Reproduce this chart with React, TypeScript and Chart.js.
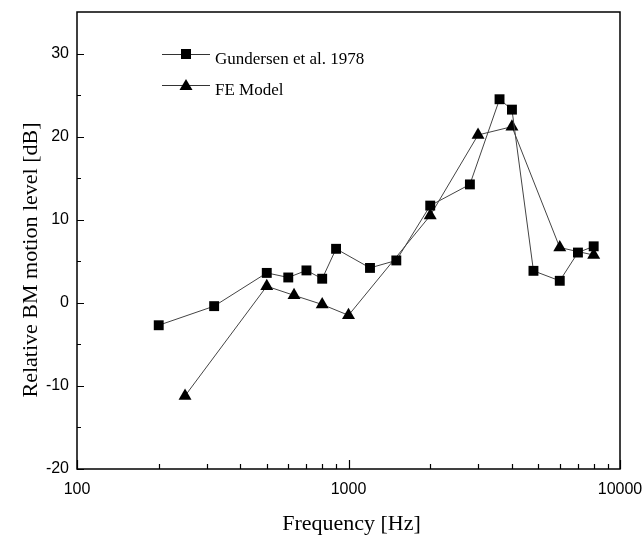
import React, { useEffect, useRef } from "react";
import { Chart, registerables } from "chart.js";

Chart.register(...registerables);

const gundersenFreq = [200, 320, 500, 600, 700, 800, 900, 1200, 1500, 2000, 2800, 3600, 4000, 4800, 6000, 7000, 8000];
const gundersenLevel = [-2.7, -0.4, 3.6, 3.05, 3.9, 2.9, 6.5, 4.2, 5.1, 11.7, 14.25, 24.5, 23.25, 3.85, 2.65, 6.05, 6.8];

const feFreq = [250, 500, 630, 800, 1000, 2000, 3000, 4000, 6000, 8000];
const feLevel = [-11.2, 2.0, 0.9, -0.2, -1.5, 10.5, 20.2, 21.2, 6.65, 5.75];

const xTickValues = [100, 1000, 10000];
const xMinorValues = [200, 300, 400, 500, 600, 700, 800, 900, 2000, 3000, 4000, 5000, 6000, 7000, 8000, 9000];
const yTickValues = [-20, -10, 0, 10, 20, 30];
const yMinorValues = [-15, -5, 5, 15, 25];

const seriesNames = ["Gundersen et al. 1978", "FE Model"];
const xTitle = "Frequency [Hz]";
const yTitle = "Relative BM motion level [dB]";

const SERIF = "'Liberation Serif', 'Times New Roman', serif";
const SANS = "'Liberation Sans', Arial, sans-serif";

const zeroPad = (s: any) => {
  s.paddingTop = 0;
  s.paddingBottom = 0;
  s.paddingLeft = 0;
  s.paddingRight = 0;
};

const decorPlugin = {
  id: "decor",
  afterDraw(chart: any) {
    const ctx = chart.ctx as CanvasRenderingContext2D;
    const { left, right, top, bottom } = chart.chartArea;
    const xs = chart.scales.x;
    const ys = chart.scales.y;
    ctx.save();
    ctx.strokeStyle = "#000";
    ctx.lineWidth = 1.2;
    ctx.beginPath();
    for (const v of xTickValues) {
      const px = Math.round(xs.getPixelForValue(v)) + 0.5;
      ctx.moveTo(px, bottom);
      ctx.lineTo(px, bottom - 9);
    }
    for (const v of xMinorValues) {
      const px = Math.round(xs.getPixelForValue(v)) + 0.5;
      ctx.moveTo(px, bottom);
      ctx.lineTo(px, bottom - 5);
    }
    for (const v of yTickValues) {
      const py = Math.round(ys.getPixelForValue(v)) + 0.5;
      ctx.moveTo(left, py);
      ctx.lineTo(left + 7, py);
    }
    for (const v of yMinorValues) {
      const py = Math.round(ys.getPixelForValue(v)) + 0.5;
      ctx.moveTo(left, py);
      ctx.lineTo(left + 4, py);
    }
    ctx.stroke();
    ctx.lineWidth = 1.5;
    ctx.strokeRect(left, top, right - left, bottom - top);

    ctx.fillStyle = "#000";
    ctx.font = `22px ${SERIF}`;
    ctx.textAlign = "center";
    ctx.textBaseline = "alphabetic";
    ctx.fillText(xTitle, (left + right) / 2 + 3, 530);
    ctx.save();
    ctx.translate(37, 260);
    ctx.rotate(-Math.PI / 2);
    ctx.fillText(yTitle, 0, 0);
    ctx.restore();

    const rows = [
      { y: 54, base: 64, shape: "rect" },
      { y: 85, base: 95, shape: "tri" },
    ];
    ctx.font = `17px ${SERIF}`;
    ctx.textAlign = "left";
    rows.forEach((r, i) => {
      ctx.strokeStyle = "#333";
      ctx.lineWidth = 1;
      ctx.beginPath();
      ctx.moveTo(162, r.y + 0.5);
      ctx.lineTo(210, r.y + 0.5);
      ctx.stroke();
      ctx.fillStyle = "#000";
      const cx = 186;
      if (r.shape === "rect") {
        ctx.fillRect(cx - 5, r.y - 5, 10, 10);
      } else {
        ctx.beginPath();
        ctx.moveTo(cx, r.y - 6);
        ctx.lineTo(cx + 6.5, r.y + 5);
        ctx.lineTo(cx - 6.5, r.y + 5);
        ctx.closePath();
        ctx.fill();
      }
      ctx.fillText(seriesNames[i], 215, r.base);
    });
    ctx.restore();
  },
};

export default function App() {
  const ref = useRef<HTMLCanvasElement | null>(null);
  useEffect(() => {
    if (!ref.current) return;
    const chart = new Chart(ref.current, {
      type: "line",
      data: {
        datasets: [
          {
            label: seriesNames[0],
            data: gundersenFreq.map((f, i) => ({ x: f, y: gundersenLevel[i] })),
            borderColor: "#444",
            borderWidth: 1,
            backgroundColor: "#000",
            pointStyle: "rect",
            pointRadius: 7,
            pointBorderWidth: 0,
            pointBackgroundColor: "#000",
            tension: 0,
          },
          {
            label: seriesNames[1],
            data: feFreq.map((f, i) => ({ x: f, y: feLevel[i] })),
            borderColor: "#444",
            borderWidth: 1,
            backgroundColor: "#000",
            pointStyle: "triangle",
            pointRadius: 7.5,
            pointBorderWidth: 0,
            pointBackgroundColor: "#000",
            tension: 0,
          },
        ],
      },
      options: {
        animation: false,
        responsive: false,
        layout: { padding: { left: 0, top: 12, right: 24, bottom: 0 } },
        plugins: { legend: { display: false }, tooltip: { enabled: false } },
        scales: {
          x: {
            type: "logarithmic",
            min: 100,
            max: 10000,
            grid: { display: false, drawTicks: false },
            border: { display: false },
            afterBuildTicks: (s: any) => {
              s.ticks = xTickValues.map((v) => ({ value: v }));
            },
            afterFit: (s: any) => {
              s.height = 70;
              zeroPad(s);
            },
            ticks: {
              autoSkip: false,
              maxRotation: 0,
              padding: 11,
              color: "#000",
              font: { family: SANS, size: 16 },
              callback: (v: any) => String(v),
            },
          },
          y: {
            type: "linear",
            min: -20,
            max: 35,
            grid: { display: false, drawTicks: false },
            border: { display: false },
            afterBuildTicks: (s: any) => {
              s.ticks = yTickValues.map((v) => ({ value: v }));
            },
            afterFit: (s: any) => {
              s.width = 77;
              zeroPad(s);
            },
            ticks: {
              padding: 8,
              color: "#000",
              font: { family: SANS, size: 16 },
              callback: (v: any) => String(v),
            },
          },
        },
      },
      plugins: [decorPlugin],
    } as any);
    return () => chart.destroy();
  }, []);
  return (
    <div style={{ position: "fixed", left: 0, top: 0, width: 644, height: 539, background: "#fff" }}>
      <canvas ref={ref} width={644} height={539} style={{ display: "block" }} />
    </div>
  );
}
